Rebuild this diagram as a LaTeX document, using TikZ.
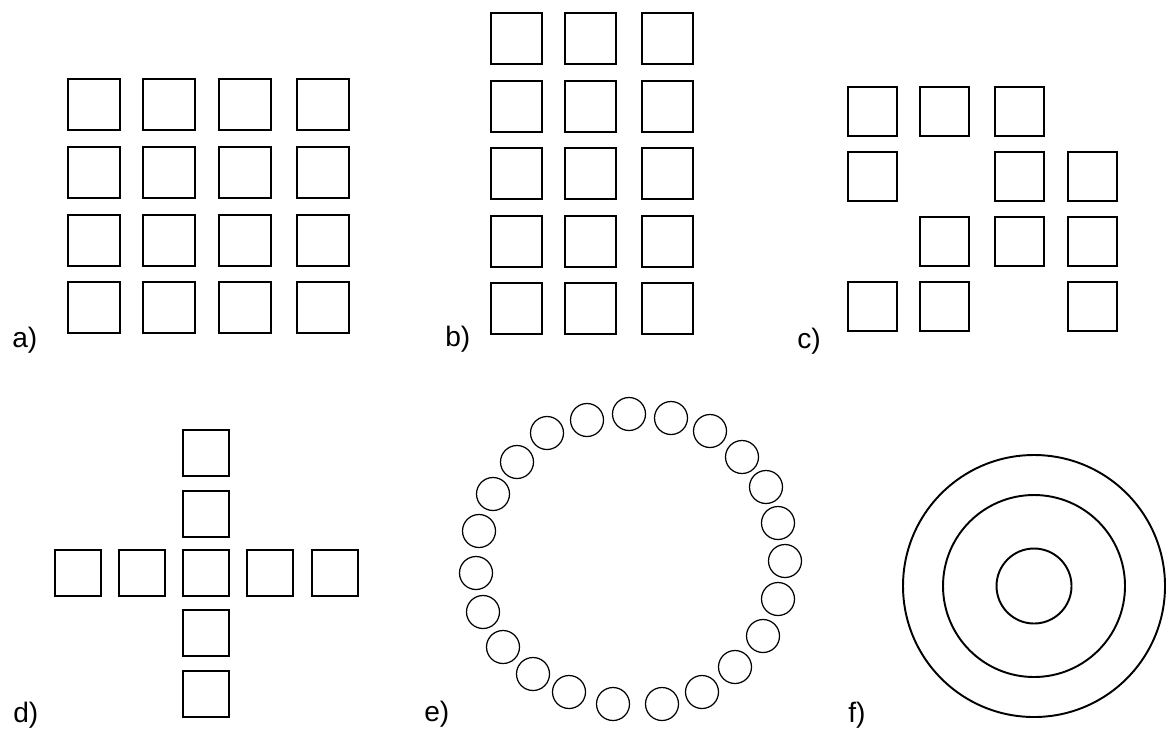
\documentclass[tikz,border=0pt]{standalone}
\usepackage{fontspec}
\setmainfont{Liberation Sans}
\usetikzlibrary{positioning}

\tikzset{
  sq/.style={line width=1.2pt},
  dot/.style={line width=0.7pt},
  ringline/.style={line width=1.1pt},
  tag/.style={anchor=base west,inner sep=0pt,font=\fontsize{16}{19}\selectfont}
}

\begin{document}
\begin{tikzpicture}[x=0.02cm,y=-0.02cm]
    \useasboundingbox (0,0) rectangle (1168,731);
    % a) 4 x 4 grid
    \foreach \x in {68,143,219,297}
      \foreach \y in {79,147,215,282}
        \draw[sq] (\x,\y) rectangle ++(52,51);
    \node[tag] (la) at (12,347) {a)};
    % b) 3 x 5 grid
    \foreach \x in {491,565,642}
      \foreach \y in {13,81,148,216,283}
        \draw[sq] (\x,\y) rectangle ++(51,51);
    \node[tag] (lb) at (445,346) {b)};
    % c) scattered grid
    \foreach \x/\y in {848/87,920/87,995/87,
                       848/152,995/152,1068/152,
                       920/217,995/217,1068/217,
                       848/282,920/282,1068/282}
      \draw[sq] (\x,\y) rectangle ++(49,49);
    \node[tag] (lc) at (797,348) {c)};
    % d) cross
    \foreach \y in {430,491,550,610,671}
      \draw[sq] (183,\y) rectangle ++(46,46);
    \foreach \x in {55,119,247,312}
      \draw[sq] (\x,550) rectangle ++(46,46);
    \node[tag] (ld) at (13,722) {d)};
    % e) ring of small circles
    \foreach \x/\y in {629/414,671/418,710/431,742/457,766/487,778/523,
                       785/561,778/599,763/636,735/667,702/692,662/704,
                       613/704,569/692,533/674,503/647,483/612,476/573,
                       479/531,493/494,517/462,547/433,587/420}
      \draw[dot] (\x,\y) circle (16.5);
    \node[tag] (le) at (424,721) {e)};
    % f) concentric circles
    \foreach \r in {131,91,37.5}
      \draw[ringline] (1034,586) circle (\r);
    \node[tag] (lf) at (848,722) {f)};
  \end{tikzpicture}
\end{document}
